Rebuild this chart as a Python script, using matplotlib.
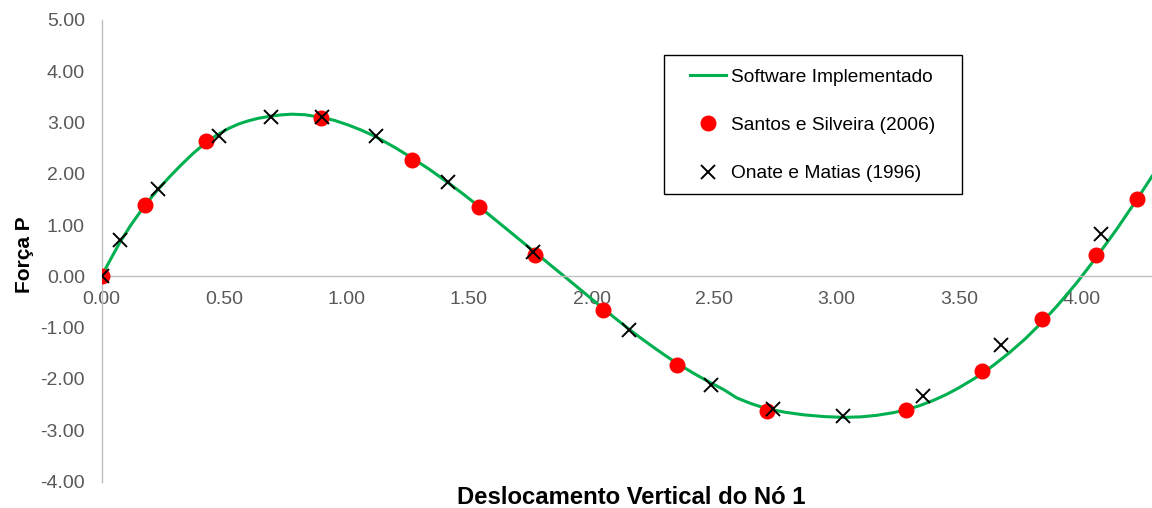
import matplotlib
matplotlib.use("Agg")
import matplotlib.pyplot as plt
from matplotlib.patches import Rectangle

plt.rcParams["font.family"] = ["Liberation Sans", "DejaVu Sans"]

# Software Implementado (curve)
soft_x = [0.000, 0.038, 0.076, 0.120, 0.178, 0.232, 0.280, 0.327, 0.375, 0.427,
          0.470, 0.518, 0.560, 0.599, 0.640, 0.688, 0.730, 0.776, 0.830, 0.895,
          0.950, 1.007, 1.060, 1.116, 1.198, 1.266, 1.340, 1.416, 1.480, 1.541,
          1.600, 1.654, 1.710, 1.769, 1.840, 1.899, 1.980, 2.043, 2.100, 2.150,
          2.200, 2.252, 2.300, 2.347, 2.420, 2.484, 2.540, 2.593, 2.650, 2.715,
          2.790, 2.865, 2.950, 3.028, 3.100, 3.164, 3.230, 3.287, 3.340, 3.395,
          3.450, 3.497, 3.550, 3.597, 3.650, 3.708, 3.770, 3.842, 3.900, 3.980,
          4.059, 4.144, 4.225, 4.288]
soft_y = [0.00, 0.34, 0.67, 1.00, 1.39, 1.70, 1.95, 2.18, 2.40, 2.61,
          2.75, 2.88, 2.97, 3.03, 3.08, 3.12, 3.145, 3.16, 3.15, 3.10,
          3.04, 2.95, 2.85, 2.73, 2.51, 2.31, 2.08, 1.82, 1.59, 1.36,
          1.13, 0.92, 0.70, 0.47, 0.19, -0.04, -0.36, -0.61, -0.83, -1.02,
          -1.20, -1.38, -1.54, -1.69, -1.90, -2.07, -2.21, -2.37, -2.48, -2.58,
          -2.65, -2.70, -2.735, -2.75, -2.74, -2.71, -2.66, -2.60, -2.52, -2.42,
          -2.30, -2.18, -2.03, -1.89, -1.70, -1.48, -1.22, -0.88, -0.58, -0.13,
          0.36, 0.92, 1.49, 1.95]

# Santos e Silveira (2006)
santos_x = [0.00, 0.177, 0.428, 0.895, 1.266, 1.541, 1.771, 2.045, 2.347,
            2.716, 3.282, 3.594, 3.838, 4.060, 4.225]
santos_y = [0.00, 1.39, 2.64, 3.09, 2.27, 1.35, 0.42, -0.65, -1.73,
            -2.62, -2.61, -1.84, -0.84, 0.41, 1.51]

# Onate e Matias (1996)
onate_x = [0.00, 0.076, 0.231, 0.478, 0.691, 0.899, 1.120, 1.416, 1.763,
           2.154, 2.486, 2.740, 3.028, 3.352, 3.671, 4.080]
onate_y = [0.00, 0.71, 1.71, 2.73, 3.10, 3.11, 2.74, 1.84, 0.48,
           -1.04, -2.12, -2.59, -2.72, -2.33, -1.34, 0.82]

Y_TICKS = [-4, -3, -2, -1, 0, 1, 2, 3, 4, 5]
X_TICKS = [0.0, 0.5, 1.0, 1.5, 2.0, 2.5, 3.0, 3.5, 4.0]

W, H = 1152, 508
fig = plt.figure(figsize=(W / 100, H / 100), dpi=100)
ax = fig.add_axes([101.5 / W, 26.5 / H, 1 - 101.5 / W, (481.5 - 19.8) / H])

ax.plot(soft_x, soft_y, color="#00B050", lw=2.2, zorder=2,
        solid_joinstyle="round", label="Software Implementado")
ax.plot(santos_x, santos_y, ls="none", marker="o", ms=10.5, color="#FF0000",
        zorder=3, label="Santos e Silveira (2006)")
ax.plot(onate_x, onate_y, ls="none", marker="x", ms=10.5, mew=1.4, color="black",
        zorder=4, label="Onate e Matias (1996)")

ax.set_xlim(0, (W - 101.5) / 245)
ax.set_ylim(-4, 5)
ax.set_xticks(X_TICKS)
ax.set_yticks(Y_TICKS)
ax.set_xticklabels([f"{v:.2f}" for v in X_TICKS])
ax.set_yticklabels([f"{v:.2f}" for v in Y_TICKS])

for s in ["top", "right"]:
    ax.spines[s].set_visible(False)
ax.spines["bottom"].set_position(("data", 0))
for s in ["bottom", "left"]:
    ax.spines[s].set_color("#BFBFBF")
    ax.spines[s].set_linewidth(1.0)
ax.tick_params(axis="both", length=0, labelsize=14, labelcolor="#595959")
ax.tick_params(axis="x", pad=10.5)
ax.tick_params(axis="y", pad=12)
ax.set_facecolor("none")

fig.text(24 / W, 1 - 255 / H, "Força P", rotation=90, ha="center", va="center",
         fontsize=15, fontweight="bold")
fig.text(631 / W, 1 - 497 / H, "Deslocamento Vertical do Nó 1", ha="center",
         va="center", fontsize=17.2, fontweight="bold")

# legend box drawn by hand, entries placed inside it
ax.add_patch(Rectangle((664 / W, 1 - 194 / H), (962 - 664) / W, (194 - 55) / H,
                       transform=fig.transFigure, facecolor="white",
                       edgecolor="black", lw=1.0, zorder=4.9, clip_on=False))
leg = ax.legend(loc="center left", bbox_to_anchor=(690 / W, 1 - 125.5 / H),
                bbox_transform=fig.transFigure, frameon=False, borderpad=0,
                borderaxespad=0, fontsize=13.8, handlelength=1.9,
                handletextpad=0.26, labelspacing=1.6)
leg.set_zorder(6)

fig.savefig("out.png", dpi=100)
